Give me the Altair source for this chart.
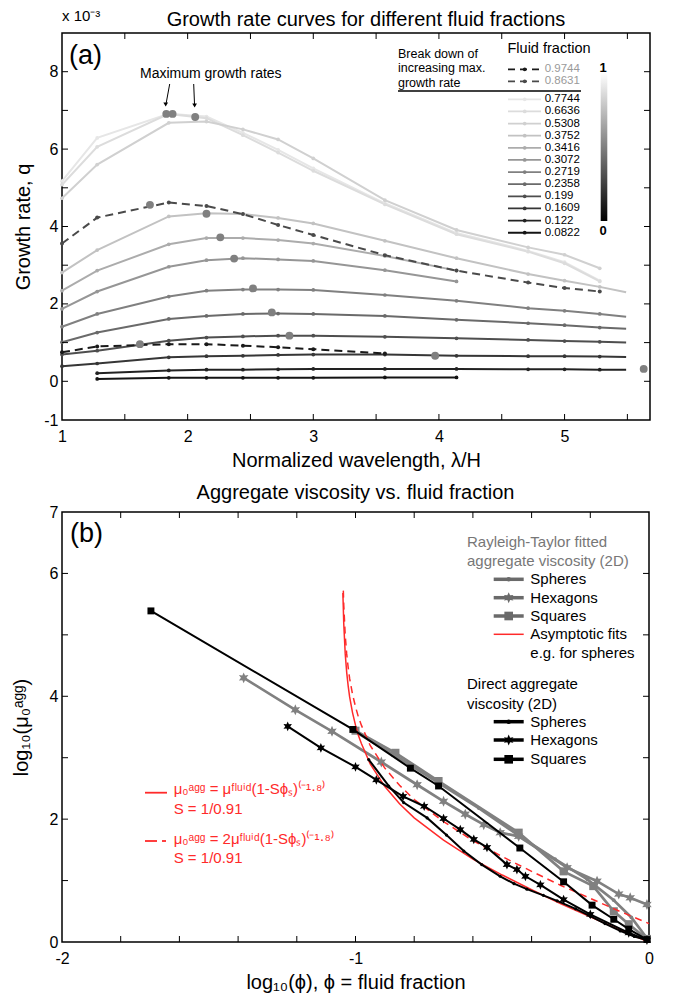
import altair as alt
import pandas as pd

FONT = "Liberation Sans"
N = None

# ---------------- Panel (a): growth rate curves ----------------
wavelength = [1.0, 1.28, 1.85, 2.15, 2.44, 2.72, 3.0, 3.57, 4.14, 4.71, 5.0, 5.28, 5.49]

fractions = ["0.7744", "0.6636", "0.5308", "0.3752", "0.3416", "0.3072",
             "0.2719", "0.2358", "0.199", "0.1609", "0.122", "0.0822"]
fraction_colors = ["#e6e6e6", "#dcdcdc", "#d0d0d0", "#c2c2c2", "#acacac", "#969696",
                   "#808080", "#6a6a6a", "#4e4e4e", "#363636", "#222222", "#141414"]

q_07744 = [5.17, 6.29, 6.91, 6.84, 6.42, 5.98, 5.50, 4.60, 3.83, 3.37, 3.08, 2.60, N]
q_06636 = [5.08, 6.06, 6.91, 6.80, 6.36, 5.91, 5.44, 4.57, 3.80, 3.35, 3.05, 2.58, N]
q_05308 = [4.73, 5.60, 6.68, 6.71, 6.51, 6.25, 5.76, 4.68, 3.91, 3.46, 3.27, 2.92, N]
q_03752 = [2.81, 3.39, 4.26, 4.34, 4.32, 4.22, 4.08, 3.63, 3.18, 2.77, 2.60, 2.44, 2.30]
q_03416 = [2.34, 2.86, 3.54, 3.70, 3.70, 3.65, 3.56, 3.24, 2.86, N, N, N, N]
q_03072 = [1.87, 2.32, 2.96, 3.13, 3.18, 3.15, 3.11, 2.87, 2.58, N, N, N, N]
q_02719 = [1.41, 1.74, 2.19, 2.34, 2.37, 2.37, 2.36, 2.23, 2.08, 1.89, 1.82, 1.74, 1.67]
q_02358 = [1.01, 1.26, 1.61, 1.69, 1.74, 1.75, 1.74, 1.69, 1.59, 1.50, 1.45, 1.39, 1.36]
q_0199 = [0.69, 0.79, 1.05, 1.13, 1.16, 1.18, 1.18, 1.15, 1.11, 1.07, 1.04, 1.02, 1.00]
q_01609 = [0.39, 0.46, 0.62, 0.65, 0.66, 0.68, 0.69, 0.69, 0.66, 0.65, 0.65, 0.64, 0.63]
q_0122 = [N, 0.21, 0.28, 0.30, 0.30, 0.31, 0.32, 0.32, 0.32, 0.31, 0.31, 0.30, 0.30]
q_00822 = [N, 0.06, 0.09, 0.09, 0.09, 0.09, 0.09, 0.10, 0.10, N, N, N, N]
growth = [q_07744, q_06636, q_05308, q_03752, q_03416, q_03072,
          q_02719, q_02358, q_0199, q_01609, q_0122, q_00822]

dashed_fractions = ["0.9744", "0.8631"]
dashed_colors = ["#1a1a1a", "#4a4a4a"]
q_09744 = [0.75, 0.90, 0.96, 0.96, 0.92, 0.88, 0.83, 0.72, N, N, N, N, N]
q_08631 = [3.56, 4.23, 4.62, 4.53, 4.32, 4.04, 3.78, 3.26, 2.86, 2.55, 2.41, 2.32, N]
dashed_growth = [q_09744, q_08631]

max_x = [1.83, 1.88, 2.06, 2.15, 2.26, 2.37, 2.52, 2.67, 2.81, 3.97, 5.63, 1.70, 1.62]
max_q = [6.91, 6.91, 6.83, 4.33, 3.72, 3.17, 2.40, 1.78, 1.18, 0.66, 0.32, 4.56, 0.96]

a_xticks = [1.5, 2.0, 2.5, 3.0, 3.5, 4.0, 4.5, 5.0, 5.5]
a_yticks = [0, 1, 2, 3, 4, 5, 6, 7, 8]
a_xlabels = [1, 2, 3, 4, 5]
a_ylabels = [-1, 0, 2, 4, 6, 8]

# ---------------- Panel (b): aggregate viscosity ----------------
rt_sph_x = [-1.0, -0.86, -0.72, -0.58, -0.44, -0.32, -0.21, -0.12, -0.06, -0.007]
rt_sph_y = [3.42, 3.02, 2.60, 2.18, 1.72, 1.35, 1.02, 0.68, 0.40, 0.06]
rt_hex_x = [-1.381, -1.205, -1.08, -0.912, -0.79, -0.70, -0.626, -0.563, -0.507, -0.444,
            -0.279, -0.177, -0.103, -0.064, -0.007]
rt_hex_y = [4.30, 3.78, 3.43, 2.93, 2.56, 2.29, 2.08, 1.91, 1.78, 1.72,
            1.21, 0.99, 0.78, 0.72, 0.61]
rt_sq_x = [-1.0, -0.864, -0.717, -0.444, -0.291, -0.19, -0.12, -0.069, -0.007]
rt_sq_y = [3.44, 3.08, 2.62, 1.78, 1.15, 0.91, 0.50, 0.29, 0.05]

dir_sph_x = [-0.955, -0.887, -0.836, -0.756, -0.69, -0.631, -0.57, -0.507, -0.46, -0.416,
             -0.36, -0.313, -0.25, -0.20, -0.15, -0.098, -0.05, -0.007]
dir_sph_y = [2.97, 2.54, 2.27, 2.02, 1.74, 1.48, 1.26, 1.07, 0.95, 0.86,
             0.76, 0.67, 0.54, 0.42, 0.30, 0.18, 0.09, 0.03]
dir_hex_x = [-1.231, -1.118, -1.0, -0.929, -0.838, -0.766, -0.70, -0.643, -0.597, -0.552,
             -0.484, -0.45, -0.421, -0.37, -0.291, -0.20, -0.069, -0.007]
dir_hex_y = [3.51, 3.16, 2.85, 2.64, 2.37, 2.21, 2.01, 1.83, 1.67, 1.54,
             1.26, 1.18, 1.07, 0.93, 0.69, 0.45, 0.15, 0.03]
dir_sq_x = [-1.697, -1.009, -0.813, -0.717, -0.44, -0.291, -0.194, -0.12, -0.069, -0.007]
dir_sq_y = [5.39, 3.46, 2.83, 2.54, 1.53, 0.98, 0.60, 0.37, 0.21, 0.04]

fit_x = [-1.043, -1.042, -1.04, -1.035, -1.03, -1.025, -1.02, -1.01, -1.0, -0.99, -0.98,
         -0.95, -0.9, -0.85, -0.8, -0.7, -0.6, -0.5, -0.4, -0.3, -0.2, -0.1, 0.0]
fit_y = [5.68, 5.52, 5.18, 4.69, 4.39, 4.17, 3.99, 3.73, 3.53, 3.36, 3.23,
         2.90, 2.53, 2.25, 2.02, 1.66, 1.35, 1.09, 0.85, 0.62, 0.41, 0.20, 0.0]
fit2_x = [-1.0415, -1.04, -1.035, -1.03, -1.025, -1.02, -1.01, -1.0, -0.99, -0.98,
          -0.95, -0.9, -0.85, -0.8, -0.7, -0.6, -0.5, -0.4, -0.3, -0.2, -0.1, 0.0]
fit2_y = [5.72, 5.48, 4.99, 4.69, 4.47, 4.29, 4.03, 3.83, 3.66, 3.53,
          3.20, 2.83, 2.55, 2.32, 1.96, 1.65, 1.39, 1.15, 0.92, 0.71, 0.50, 0.30]

b_xticks = [-1.8, -1.6, -1.4, -1.2, -1.0, -0.8, -0.6, -0.4, -0.2]
b_yticks = [1, 2, 3, 4, 5, 6]
b_xlabels = [-2, -1, 0]
b_ylabels = [0, 2, 4, 6, 7]

STAR = ("M0,-1L0.25,-0.433L0.866,-0.5L0.5,0L0.866,0.5L0.25,0.433L0,1"
        "L-0.25,0.433L-0.866,0.5L-0.5,0L-0.866,-0.5L-0.25,-0.433Z")

W_A, H_A = 588, 387
W_B, H_B = 587, 430
TICK = 6
LABEL_EXPR = "toString(datum.value)"


def one():
    return alt.Chart(pd.DataFrame({"k": [0]}))


def text(x, y, s, size, color="black", align="left", baseline="middle", weight="normal"):
    return one().mark_text(text=s, fontSize=size, color=color, align=align,
                           baseline=baseline, fontWeight=weight, font=FONT).encode(
        x=alt.value(x), y=alt.value(y))


def seg(x1, y1, x2, y2, color, width, dash=None):
    kw = dict(color=color, strokeWidth=width)
    if dash:
        kw["strokeDash"] = dash
    return one().mark_rule(**kw).encode(x=alt.value(x1), y=alt.value(y1),
                                        x2=alt.value(x2), y2=alt.value(y2))


def dot(x, y, shape, size, color):
    return one().mark_point(shape=shape, size=size, filled=True, color=color,
                            opacity=1, strokeWidth=0).encode(x=alt.value(x), y=alt.value(y))


def inward_ticks(xticks, yticks, XE, YE, W, H, xf, yf):
    dx = pd.DataFrame({xf: xticks})
    dy = pd.DataFrame({yf: yticks})
    return [
        alt.Chart(dx).mark_rule(color="black", strokeWidth=1).encode(XE, y=alt.value(H), y2=alt.value(H - TICK)),
        alt.Chart(dx).mark_rule(color="black", strokeWidth=1).encode(XE, y=alt.value(0), y2=alt.value(TICK)),
        alt.Chart(dy).mark_rule(color="black", strokeWidth=1).encode(YE, x=alt.value(0), x2=alt.value(TICK)),
        alt.Chart(dy).mark_rule(color="black", strokeWidth=1).encode(YE, x=alt.value(W), x2=alt.value(W - TICK)),
    ]


# ---------- build panel (a) ----------
def curve_rows(names, cols, series):
    rows = []
    for rank, (nm, col, vals) in enumerate(zip(names, cols, series)):
        for x, v in zip(wavelength, vals):
            if v is not None:
                rows.append({"x": x, "q": v, "s": nm, "c": col, "r": rank})
    return pd.DataFrame(rows)


df_solid = curve_rows(fractions, fraction_colors, growth)
df_dash = curve_rows(dashed_fractions, dashed_colors, dashed_growth)
df_max = pd.DataFrame({"x": max_x, "q": max_q})

xa = alt.Scale(domain=[1, 5.68], nice=False, zero=False)
ya = alt.Scale(domain=[-1, 9], nice=False, zero=False)
XA = alt.X("x:Q", scale=xa, axis=alt.Axis(values=a_xlabels, title="Normalized wavelength, λ/H",
                                          labelFlush=False, labelPadding=8, titlePadding=6,
                                          labelExpr=LABEL_EXPR))
YA = alt.Y("q:Q", scale=ya, axis=alt.Axis(values=a_ylabels, title="Growth rate, q",
                                          labelPadding=4, titlePadding=10, labelExpr=LABEL_EXPR))

layers_a = []
layers_a.append(alt.Chart(df_solid).mark_line(strokeWidth=2).encode(
    XA, YA, detail="s:N", color=alt.Color("c:N", scale=None)))
layers_a.append(alt.Chart(df_solid).transform_filter("datum.x < 5.4").mark_circle(size=14, opacity=1).encode(
    XA, YA, color=alt.Color("c:N", scale=None)))
layers_a.append(alt.Chart(df_dash).mark_line(strokeWidth=2, strokeDash=[8, 5]).encode(
    XA, YA, detail="s:N", color=alt.Color("c:N", scale=None)))
layers_a.append(alt.Chart(df_dash).mark_circle(size=16, opacity=1).encode(
    XA, YA, color=alt.Color("c:N", scale=None)))
layers_a.append(alt.Chart(df_max).mark_circle(size=62, opacity=1, color="#808080").encode(XA, YA))
layers_a += inward_ticks(a_xticks, a_yticks, XA, YA, W_A, H_A, "x", "q")

# annotations (a)
layers_a.append(text(7, 23, "(a)", 27))
layers_a.append(text(0, -17, "x 10⁻³", 15))
layers_a.append(text(78, 41, "Maximum growth rates", 14))
layers_a.append(seg(107.7, 51, 104.2, 70, "black", 1))
layers_a.append(seg(131.7, 51, 132.5, 71, "black", 1))
layers_a.append(dot(103.7, 71.5, "triangle-down", 22, "black"))
layers_a.append(dot(132.6, 72.5, "triangle-down", 22, "black"))

# legend (a)
layers_a.append(text(487, 16, "Fluid fraction", 14.5, align="center"))
for i, line in enumerate(["Break down of", "increasing max.", "growth rate"]):
    layers_a.append(text(336, 20.7 + i * 14.5, line, 12.5))
layers_a.append(seg(336, 58, 519, 58, "black", 1.5))
for i, (nm, col) in enumerate(zip(dashed_fractions, dashed_colors)):
    y = 36.3 + i * 12
    layers_a.append(seg(446, y, 479, y, col, 1.8, dash=[7, 5]))
    layers_a.append(dot(462.7, y, "circle", 14, col))
    layers_a.append(text(482.7, y, nm, 11.5, color="#9a9a9a"))
for i, (nm, col) in enumerate(zip(fractions, fraction_colors)):
    y = 66.3 + i * 12.13
    layers_a.append(seg(446, y, 479, y, col, 1.8))
    layers_a.append(dot(462.7, y, "circle", 14, col))
    layers_a.append(text(482.7, y, nm, 11.5))
layers_a.append(one().mark_rect(fill=alt.Gradient(
    gradient="linear",
    stops=[alt.GradientStop(color="#ffffff", offset=0), alt.GradientStop(color="#000000", offset=1)],
    x1=0, x2=0, y1=0, y2=1)).encode(x=alt.value(538.7), x2=alt.value(545.3),
                                    y=alt.value(39.7), y2=alt.value(188)))
layers_a.append(text(541, 34.5, "1", 13, align="center", weight="bold"))
layers_a.append(text(541, 198, "0", 13, align="center", weight="bold"))

panel_a = alt.layer(*layers_a).properties(
    width=W_A, height=H_A,
    title=alt.TitleParams("Growth rate curves for different fluid fractions",
                          fontSize=20, anchor="middle", offset=-21, dx=10, frame="group"))

# ---------- build panel (b) ----------
def series_df(x, y):
    return pd.DataFrame({"x": x, "v": y})


xb = alt.Scale(domain=[-2, 0], nice=False, zero=False)
yb = alt.Scale(domain=[0, 7], nice=False, zero=False)
XB = alt.X("x:Q", scale=xb, axis=alt.Axis(values=b_xlabels, title="log₁₀(ϕ), ϕ = fluid fraction",
                                          labelFlush=False, labelPadding=8, titlePadding=6,
                                          labelExpr=LABEL_EXPR))
YB = alt.Y("v:Q", scale=yb, axis=alt.Axis(values=b_ylabels, title="log₁₀(μ₀ᵃᵍᵍ)",
                                          labelPadding=4, titlePadding=18, labelExpr=LABEL_EXPR))

GRAY = "#808080"
RED = "#ff2a2a"
layers_b = []
for xs, ys, shape, size in [(rt_sph_x, rt_sph_y, "circle", 14),
                            (rt_hex_x, rt_hex_y, STAR, 120),
                            (rt_sq_x, rt_sq_y, "square", 65)]:
    d = series_df(xs, ys)
    layers_b.append(alt.Chart(d).mark_line(color=GRAY, strokeWidth=2.7).encode(XB, YB))
    layers_b.append(alt.Chart(d).mark_point(shape=shape, size=size, filled=True, color=GRAY,
                                            opacity=1, strokeWidth=0).encode(XB, YB))
layers_b.append(alt.Chart(series_df(fit_x, fit_y)).mark_line(color=RED, strokeWidth=1.5).encode(XB, YB))
layers_b.append(alt.Chart(series_df(fit2_x, fit2_y)).mark_line(color=RED, strokeWidth=1.5,
                                                               strokeDash=[7, 5]).encode(XB, YB))
for xs, ys, shape, size in [(dir_sph_x, dir_sph_y, "circle", 10),
                            (dir_hex_x, dir_hex_y, STAR, 95),
                            (dir_sq_x, dir_sq_y, "square", 48)]:
    d = series_df(xs, ys)
    layers_b.append(alt.Chart(d).mark_line(color="black", strokeWidth=2).encode(XB, YB))
    layers_b.append(alt.Chart(d).mark_point(shape=shape, size=size, filled=True, color="black",
                                            opacity=1, strokeWidth=0).encode(XB, YB))
layers_b += inward_ticks(b_xticks, b_yticks, XB, YB, W_B, H_B, "x", "v")

layers_b.append(text(8, 22, "(b)", 27))
# legend (b)
LG = "#777777"
layers_b.append(text(405, 30, "Rayleigh-Taylor fitted", 15, color=LG))
layers_b.append(text(405, 48.5, "aggregate viscosity (2D)", 15, color=LG))
for y, lab, shape, size in [(67.3, "Spheres", "circle", 20), (85.7, "Hexagons", STAR, 120),
                            (104, "Squares", "square", 75)]:
    layers_b.append(seg(431.7, y, 461.7, y, "#6a6a6a", 3.5))
    layers_b.append(dot(446.7, y, shape, size, "#6a6a6a"))
    layers_b.append(text(468.3, y, lab, 15))
layers_b.append(seg(431.7, 122.3, 461.7, 122.3, RED, 1.5))
layers_b.append(text(468.3, 122.3, "Asymptotic fits", 15))
layers_b.append(text(468.3, 140.7, "e.g. for spheres", 15))
layers_b.append(text(405, 172.3, "Direct aggregate", 15))
layers_b.append(text(405, 191.5, "viscosity (2D)", 15))
for y, lab, shape, size in [(209.7, "Spheres", "circle", 20), (228, "Hexagons", STAR, 120),
                            (247.3, "Squares", "square", 75)]:
    layers_b.append(seg(431.7, y, 461.7, y, "black", 3.5))
    layers_b.append(dot(446.7, y, shape, size, "black"))
    layers_b.append(text(468.3, y, lab, 15))

layers_b.append(seg(83, 280.7, 105, 280.7, RED, 1.8))
layers_b.append(text(111.7, 277, "μ₀ᵃᵍᵍ = μᶠˡᵘⁱᵈ(1-Sϕₛ)⁽⁻¹·⁸⁾", 15, color=RED))
layers_b.append(text(111.7, 297.3, "S = 1/0.91", 15, color=RED))
layers_b.append(seg(83, 329, 95, 329, RED, 1.8))
layers_b.append(seg(100, 329, 104, 329, RED, 1.8))
layers_b.append(text(111.7, 327, "μ₀ᵃᵍᵍ = 2μᶠˡᵘⁱᵈ(1-Sϕₛ)⁽⁻¹·⁸⁾", 15, color=RED))
layers_b.append(text(111.7, 345.7, "S = 1/0.91", 15, color=RED))

panel_b = alt.layer(*layers_b).properties(
    width=W_B, height=H_B,
    title=alt.TitleParams("Aggregate viscosity vs. fluid fraction",
                          fontSize=20, anchor="middle", offset=1, frame="group"))

chart = alt.vconcat(panel_a, panel_b, spacing=11).properties(
    padding={"left": 2, "top": 0, "right": 0, "bottom": 0}
).configure(
    font=FONT
).configure_view(
    stroke="black", strokeWidth=1.5
).configure_axis(
    grid=False, domain=False, ticks=False, labelFont=FONT, titleFont=FONT,
    labelColor="black", titleColor="black", labelFontSize=16, titleFontSize=20,
    titleFontWeight="normal"
).configure_title(font=FONT, fontWeight="normal", color="black")

chart.save("out.html", embed_options={"renderer": "svg", "actions": False})
